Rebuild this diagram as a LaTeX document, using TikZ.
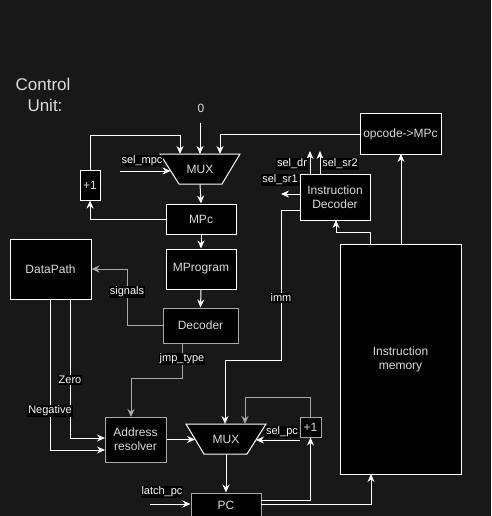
\documentclass[tikz,border=0pt]{standalone}
\usepackage{fontspec}
\setmainfont{Liberation Sans}
\usetikzlibrary{arrows.meta}
\definecolor{bg}{HTML}{181818}
\definecolor{gl}{HTML}{A8A8A8}
\definecolor{tx}{HTML}{DCDCDC}
\begin{document}
\begin{tikzpicture}[x=1pt,y=-1pt,
 box/.style={draw=white, fill=black, line width=1pt, text=tx, font=\fontsize{12}{14}\selectfont, align=center, inner sep=0pt},
 gbox/.style={box, draw=gl},
 lbl/.style={fill=black, text=white, font=\fontsize{11}{12}\selectfont, inner sep=1pt},
 wire/.style={draw=white, line width=1pt},
 arr/.style={wire, -{Stealth[length=8pt,width=7pt]}},
 garr/.style={arr, draw=gl},
 ttl/.style={text=tx, font=\fontsize{17}{19}\selectfont, inner sep=0pt},
 muxs/.style={draw=white, fill=black, line width=1pt},
]
\fill[bg] (0,0) rectangle (491,516);
\useasboundingbox (0,0) rectangle (491,516);

% title
\node[ttl] (t1) at (43,84) {Control};
\node[ttl] (t2) at (45,105) {Unit:};

% top mux
\draw[muxs] (160,154) -- (240,154) -- (222,184) -- (179,184) -- cycle;
\node[text=tx, font=\fontsize{12}{14}\selectfont] (muxA) at (200,169) {MUX};
\coordinate (mA1) at (180,154);
\coordinate (mA2) at (200,154);
\coordinate (mA3) at (220,154);
\coordinate (mAs) at (170.5,171);
\coordinate (mAo) at (200,184);

% bottom mux
\draw[muxs] (186,424) -- (266,424) -- (247,454) -- (204,454) -- cycle;
\node[text=tx, font=\fontsize{12}{14}\selectfont] (muxB) at (226,439) {MUX};
\coordinate (mB1) at (225,424);
\coordinate (mB2) at (245,424);
\coordinate (mBl) at (195,439.5);
\coordinate (mBr) at (256,440);
\coordinate (mBo) at (226,454);

% boxes
\node[box, minimum width=70, minimum height=30] (mpc) at (201,219) {MPc};
\node[box, minimum width=70, minimum height=40] (mprog) at (201,269) {MProgram};
\node[gbox, minimum width=75, minimum height=35] (dec) at (200.5,325.5) {Decoder};
\node[box, minimum width=81, minimum height=60] (dp) at (50.5,269) {DataPath};
\node[box, minimum width=20, minimum height=30] (incA) at (90,185) {+1};
\node[box, minimum width=81, minimum height=40] (opc) at (400.5,134) {opcode-\textgreater MPc};
\node[box, minimum width=70, minimum height=46] (idec) at (335,197) {Instruction\\Decoder};
\node[box, minimum width=121, minimum height=230] (imem) at (400.5,359) {Instruction\\memory};
\node[gbox, minimum width=61, minimum height=45] (ares) at (135.5,439.5) {Address\\resolver};
\node[gbox, minimum width=21, minimum height=20] (incB) at (310.5,427) {+1};
\node[box, draw=gl, minimum width=70, minimum height=24] (pc) at (226,505) {PC};

% constant input
\node[text=tx, font=\fontsize{12}{14}\selectfont, inner sep=1pt] (zero) at (201,108) {0};
\coordinate (zs) at (200,123);
\draw[arr] (zs) -- (mA2);

% top mux inputs
\draw[arr] (incA.north) -- (90,135) -| (mA1);
\draw[arr] (opc.west) -| (mA3);
\coordinate (selmpc) at (120,171);
\draw[arr] (selmpc) -- (mAs);
\node[lbl] (lselmpc) at (142,161) {sel\_mpc};

\draw[arr] (mAo) -- (mpc.north);
\draw[arr] (mpc.west) -| (incA.south);
\draw[arr] (mpc.south) -- (mprog.north);
\draw[arr] (mprog.south) -- (dec.north);

% decoder outputs
\draw[garr] (dec.west) -- (127,325.5) |- (dp.east);
\node[lbl] (lsig) at (127,292) {signals};
\coordinate (decj) at (182,343);
\coordinate (aresin) at (131,417);
\draw[garr] (decj) -- (182,378) -| (aresin);
\node[lbl] (ljmp) at (182,359) {jmp\_type};

% datapath flags
\coordinate (dpz) at (70,299);
\coordinate (dpn) at (50,299);
\coordinate (arz) at (105,438);
\coordinate (arn) at (105,450);
\draw[arr] (dpz) |- (arz);
\draw[arr] (dpn) |- (arn);
\node[lbl] (lzero) at (70,380) {Zero};
\node[lbl] (lneg) at (50,411) {Negative};

% bottom mux inputs
\draw[arr] (ares.east) -- (mBl);
\coordinate (idim) at (300,210);
\draw[arr] (idim) -- (281,210) -- (281,360) -| (mB1);
\node[lbl] (limm) at (281,298) {imm};
\draw[garr] (incB.north) -- (310.5,397) -| (mB2);
\coordinate (selpc) at (300,440);
\draw[arr] (selpc) -- (mBr);
\node[lbl] (lselpc) at (282,432) {sel\_pc};

\draw[arr] (mBo) -- (pc.north);
\coordinate (latch) at (150,504);
\draw[arr] (latch) -- (pc.west |- latch);
\node[lbl] (llatch) at (162,492) {latch\_pc};

% PC outputs
\coordinate (pco1) at (261,500);
\coordinate (pco2) at (261,504);
\draw[arr] (pco1) -| (incB.south);
\coordinate (imin) at (371,474);
\draw[arr] (pco2) -| (imin);

% instruction memory outputs
\coordinate (imo1) at (370,244);
\coordinate (idin) at (336,220);
\draw[arr] (imo1) -- (370,232) -| (idin);
\coordinate (imo2) at (401,244);
\coordinate (opin) at (401,154);
\draw[arr] (imo2) -- (opin);

% instruction decoder outputs
\coordinate (dr0) at (310,174);
\coordinate (dr1) at (310,151);
\coordinate (sr20) at (320,174);
\coordinate (sr21) at (320,151);
\draw[arr] (dr0) -- (dr1);
\draw[arr] (sr20) -- (sr21);
\node[lbl] (ldr) at (292,164) {sel\_dr};
\node[lbl] (lsr2) at (340,164) {sel\_sr2};
\coordinate (sr10) at (300,194);
\coordinate (sr11) at (281,194);
\draw[arr] (sr10) -- (sr11);
\node[lbl] (lsr1) at (280,180) {sel\_sr1};
\end{tikzpicture}
\end{document}
